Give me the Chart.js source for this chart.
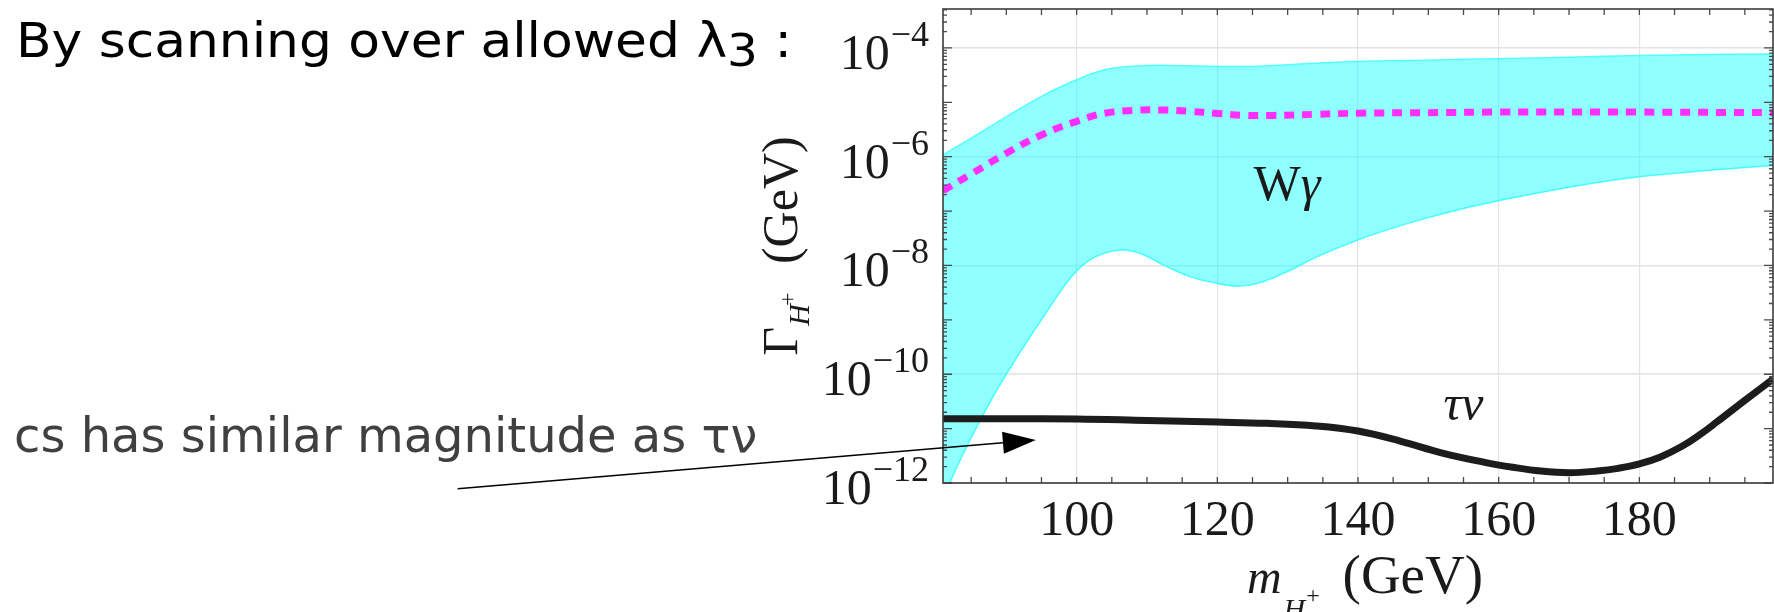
<!DOCTYPE html>
<html>
<head>
<meta charset="utf-8">
<script src="https://cdn.jsdelivr.net/npm/chart.js@4.4.1/dist/chart.umd.min.js"></script>
<style>
  html, body { margin: 0; padding: 0; background: #fff; }
  #wrap { position: relative; width: 1774px; height: 612px; overflow: hidden; }
  #chart { position: absolute; left: 0; top: 0; }
  .note { position: absolute; font-family: "DejaVu Sans", sans-serif; font-size: 48px; line-height: 48px; white-space: nowrap; transform-origin: 0 0; }
  #note1 { left: 16px; top: 16px; color: #000; transform: scaleX(1.08); }
  #note1 sub { font-size: 45px; vertical-align: -9px; line-height: 0; }
  #note2 { left: 14px; top: 411px; color: #404040; }
</style>
</head>
<body>
<div id="wrap">
  <canvas id="chart" width="1774" height="612"></canvas>
  <div class="note" id="note1">By scanning over allowed λ<sub>3</sub> :</div>
  <div class="note" id="note2">cs has similar magnitude as τν</div>
</div>
<script>
        // Wγ band: charged Higgs mass (GeV) and min / max width (GeV)
        const bandMass = [81, 84, 88, 92, 96, 98, 100, 102, 104, 106, 108, 110, 112, 116, 120, 123, 126, 130, 134, 140, 145, 150, 155, 160, 170, 180, 190, 199];
        const bandUpper = [1.08e-6, 1.84e-6, 3.76e-6, 7.76e-6, 1.51e-5, 2.00e-5, 2.60e-5, 3.31e-5, 3.98e-5, 4.37e-5, 4.62e-5, 4.73e-5, 4.79e-5, 4.68e-5, 4.57e-5, 4.57e-5, 4.62e-5, 4.90e-5, 5.25e-5, 5.62e-5, 5.82e-5, 5.96e-5, 6.17e-5, 6.31e-5, 6.76e-5, 7.24e-5, 7.59e-5, 7.76e-5];
        const bandLower = [5.37e-13, 3.72e-12, 3.63e-11, 2.57e-10, 1.58e-9, 3.80e-9, 7.94e-9, 1.29e-8, 1.70e-8, 1.91e-8, 1.82e-8, 1.48e-8, 1.07e-8, 6.31e-9, 4.68e-9, 4.17e-9, 4.79e-9, 7.76e-9, 1.41e-8, 2.95e-8, 4.90e-8, 7.59e-8, 1.12e-7, 1.55e-7, 2.75e-7, 4.27e-7, 5.62e-7, 6.92e-7];

        // Wγ dashed curve
        const wgMass = [81, 85, 90, 95, 100, 104, 108, 112, 116, 120, 124, 128, 134, 140, 150, 160, 180, 199];
        const wgWidth = [2.37e-7, 4.79e-7, 1.16e-6, 2.51e-6, 4.47e-6, 6.31e-6, 7.08e-6, 7.24e-6, 6.84e-6, 6.24e-6, 5.75e-6, 5.75e-6, 6.03e-6, 6.31e-6, 6.46e-6, 6.61e-6, 6.61e-6, 6.46e-6];

        // τν curve
        const tnMass = [81, 90, 100, 110, 120, 127, 134, 140, 146, 152, 158, 162, 166, 170, 174, 177, 180, 183, 186, 188.5, 191, 195, 199];
        const tnWidth = [1.52e-11, 1.52e-11, 1.51e-11, 1.41e-11, 1.32e-11, 1.25e-11, 1.12e-11, 9.02e-12, 5.90e-12, 3.55e-12, 2.40e-12, 1.95e-12, 1.66e-12, 1.55e-12, 1.66e-12, 1.86e-12, 2.24e-12, 3.02e-12, 4.68e-12, 7.59e-12, 1.32e-11, 3.31e-11, 8.13e-11];

        // axes
        const xMin = 81, xMax = 199;
        const yMin = 1e-12, yMax = 5.2e-4;
        const xTickValues = [100, 120, 140, 160, 180];
        const yTickValues = [1e-12, 1e-10, 1e-8, 1e-6, 1e-4];

        // annotations, in data coordinates
        const wgLabel = { x: 129.9, y: 1.6e-7 };
        const tnLabel = { x: 155.0, y: 1.45e-11 };
        const arrowFrom = { x: 12, y: 7.85e-13 };
        const arrowTo = { x: 94.2, y: 6.17e-12 };

        const SERIF = '"Liberation Serif", "Times New Roman", serif';
        const INK = '#1a1a1a';

        function toPoints(xs, ys) {
            return xs.map((v, i) => ({ x: v, y: ys[i] }));
        }

        // draw text pieces along a baseline, returns total width
        function drawParts(ctx, parts, x0, y0, measureOnly) {
            let cx = x0;
            for (const p of parts) {
                ctx.font = p.font;
                cx += p.dx || 0;
                if (!measureOnly) ctx.fillText(p.text, cx, y0 + (p.dy || 0));
                cx += ctx.measureText(p.text).width;
            }
            return cx - x0;
        }

        const decor = {
            id: 'decor',
            afterDraw(chart) {
                const { ctx, chartArea: a, scales } = chart;
                const x = scales.x, y = scales.y;
                ctx.save();

                // inner tick marks on all four sides
                ctx.strokeStyle = '#4a4a4a';
                ctx.lineWidth = 1.3;
                ctx.beginPath();
                for (let v = 85; v < xMax; v += 5) {
                    const px = x.getPixelForValue(v);
                    ctx.moveTo(px, a.bottom); ctx.lineTo(px, a.bottom - 6);
                    ctx.moveTo(px, a.top); ctx.lineTo(px, a.top + 6);
                }
                for (let k = -12; k <= -4; k++) {
                    for (let m = 1; m <= 9; m++) {
                        const v = m * Math.pow(10, k);
                        if (v < yMin * 0.999 || v > yMax) continue;
                        const py = y.getPixelForValue(v);
                        const len = m === 1 ? 9 : 4;
                        ctx.moveTo(a.left, py); ctx.lineTo(a.left + len, py);
                        ctx.moveTo(a.right, py); ctx.lineTo(a.right - len, py);
                    }
                }
                ctx.stroke();

                // frame
                ctx.strokeStyle = '#3c3c3c';
                ctx.lineWidth = 1.6;
                ctx.strokeRect(a.left, a.top, a.right - a.left, a.bottom - a.top);

                // y tick labels 10^-n
                ctx.fillStyle = INK;
                ctx.textAlign = 'left';
                ctx.textBaseline = 'alphabetic';
                for (const v of yTickValues) {
                    const py = y.getPixelForValue(v);
                    const sup = '\u2212' + Math.abs(Math.round(Math.log10(v)));
                    ctx.font = '36px ' + SERIF;
                    const ws = ctx.measureText(sup).width;
                    const right = a.left - 14;
                    ctx.fillText(sup, right - ws, py - 2);
                    ctx.font = '50px ' + SERIF;
                    const wb = ctx.measureText('10').width;
                    ctx.fillText('10', right - ws - 1 - wb, py + 21);
                }

                // x axis title  m_{H+} (GeV)
                const xParts = [
                    { text: 'm', font: 'italic 48px ' + SERIF },
                    { text: 'H', font: 'italic 30px ' + SERIF, dy: 26, dx: 2 },
                    { text: '+', font: '24px ' + SERIF, dy: 10, dx: 1 },
                    { text: ' (GeV)', font: '55px ' + SERIF, dx: 9 }
                ];
                const xw = drawParts(ctx, xParts, 0, 0, true);
                drawParts(ctx, xParts, (a.left + a.right) / 2 + 7 - xw / 2, a.bottom + 110);

                // y axis title  Γ_{H+} (GeV), rotated
                const yParts = [
                    { text: '\u0393', font: '50px ' + SERIF },
                    { text: 'H', font: 'italic 30px ' + SERIF, dy: 12, dx: 1 },
                    { text: '+', font: '24px ' + SERIF, dy: -2, dx: -2 },
                    { text: ' (GeV)', font: '50px ' + SERIF, dx: 16 }
                ];
                const yw = drawParts(ctx, yParts, 0, 0, true);
                ctx.save();
                ctx.translate(797, (a.top + a.bottom) / 2);
                ctx.rotate(-Math.PI / 2);
                drawParts(ctx, yParts, -yw / 2, 0);
                ctx.restore();

                // curve labels
                ctx.font = '50px ' + SERIF;
                const wW = ctx.measureText('W').width;
                ctx.font = 'italic 50px ' + SERIF;
                const wG = ctx.measureText('\u03b3').width;
                const lx = x.getPixelForValue(wgLabel.x) - (wW + wG) / 2;
                const ly = y.getPixelForValue(wgLabel.y);
                ctx.font = '50px ' + SERIF;
                ctx.fillText('W', lx, ly);
                ctx.font = 'italic 50px ' + SERIF;
                ctx.fillText('\u03b3', lx + wW, ly);

                ctx.textAlign = 'center';
                ctx.fillText('\u03c4\u03bd', x.getPixelForValue(tnLabel.x), y.getPixelForValue(tnLabel.y));

                // arrow from the note into the plot
                const t0 = [x.getPixelForValue(arrowFrom.x), y.getPixelForValue(arrowFrom.y)];
                const t1 = [x.getPixelForValue(arrowTo.x), y.getPixelForValue(arrowTo.y)];
                const ang = Math.atan2(t1[1] - t0[1], t1[0] - t0[0]);
                const headL = 33, headW = 11;
                const bx = t1[0] - headL * Math.cos(ang), by = t1[1] - headL * Math.sin(ang);
                ctx.strokeStyle = '#000';
                ctx.lineWidth = 1.5;
                ctx.beginPath();
                ctx.moveTo(t0[0], t0[1]);
                ctx.lineTo(bx, by);
                ctx.stroke();
                ctx.fillStyle = '#000';
                ctx.beginPath();
                ctx.moveTo(t1[0], t1[1]);
                ctx.lineTo(bx + headW * Math.sin(ang), by - headW * Math.cos(ang));
                ctx.lineTo(bx - headW * Math.sin(ang), by + headW * Math.cos(ang));
                ctx.closePath();
                ctx.fill();

                ctx.restore();
            }
        };

        new Chart(document.getElementById('chart'), {
            type: 'line',
            data: {
                datasets: [{
                    label: '\u03c4\u03bd',
                    data: toPoints(tnMass, tnWidth),
                    borderColor: '#1c1c1c',
                    borderWidth: 7,
                    pointRadius: 0,
                    tension: 0.4,
                    fill: false
                }, {
                    label: 'W\u03b3',
                    data: toPoints(wgMass, wgWidth),
                    borderColor: '#ff2eff',
                    borderWidth: 7,
                    borderDash: [10, 8],
                    pointRadius: 0,
                    tension: 0.4,
                    fill: false
                }, {
                    label: 'W\u03b3 max',
                    data: toPoints(bandMass, bandUpper),
                    borderColor: 'rgba(70,255,255,0.9)',
                    borderWidth: 1.5,
                    backgroundColor: 'rgba(0,255,255,0.44)',
                    fill: '+1',
                    pointRadius: 0,
                    tension: 0.4,
                    clip: 0
                }, {
                    label: 'W\u03b3 min',
                    data: toPoints(bandMass, bandLower),
                    borderColor: 'rgba(70,255,255,0.9)',
                    borderWidth: 1.5,
                    pointRadius: 0,
                    tension: 0.4,
                    fill: false,
                    clip: 0
                }]
            },
            options: {
                responsive: false,
                animation: false,
                devicePixelRatio: 1,
                events: [],
                layout: { padding: { left: 0, top: 9, right: 1, bottom: 0 } },
                plugins: { legend: { display: false }, tooltip: { enabled: false } },
                scales: {
                    x: {
                        type: 'linear',
                        min: xMin,
                        max: xMax,
                        afterBuildTicks: (s) => { s.ticks = xTickValues.map(v => ({ value: v })); },
                        afterFit: (s) => { s.height = 129; },
                        grid: { color: '#e4e4e4', lineWidth: 1.2, drawTicks: false },
                        border: { display: false },
                        ticks: {
                            font: { family: SERIF, size: 50 },
                            color: INK,
                            padding: 9,
                            maxRotation: 0,
                            autoSkip: false
                        }
                    },
                    y: {
                        type: 'logarithmic',
                        min: yMin,
                        max: yMax,
                        afterBuildTicks: (s) => { s.ticks = yTickValues.map(v => ({ value: v })); },
                        afterFit: (s) => { s.width = 943; },
                        grid: { color: '#e4e4e4', lineWidth: 1.5, drawTicks: false },
                        border: { display: false },
                        ticks: { display: false }
                    }
                }
            },
            plugins: [decor]
        });
</script>
</body>
</html>
